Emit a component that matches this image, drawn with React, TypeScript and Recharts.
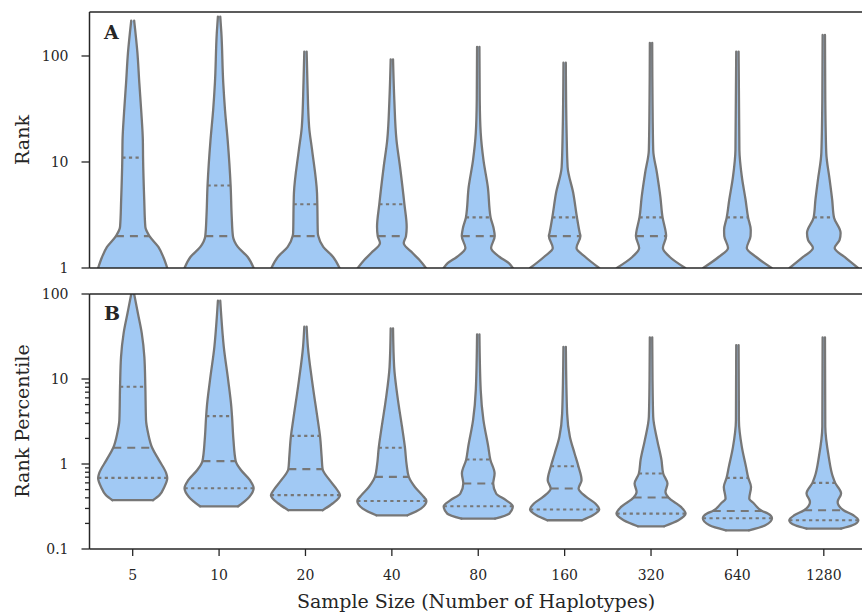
import React from 'react';
import { ComposedChart, Area, Line, XAxis, YAxis, ReferenceLine } from 'recharts';

const sampleSizes = ['5', '10', '20', '40', '80', '160', '320', '640', '1280'];

// Panel A (rank): violin outlines as [rank, relative density], bottom (cut) to top
const rank5 = [[1, 1], [1.27, 0.886], [1.58, 0.743], [2, 0.486], [2.44, 0.366], [4.38, 0.334], [11, 0.3], [16, 0.294], [29, 0.251], [56, 0.191], [107, 0.137], [215, 0.043]];
const rank10 = [[1, 1], [1.27, 0.829], [1.58, 0.543], [2, 0.4], [3.03, 0.366], [6, 0.334], [16, 0.249], [31, 0.171], [56, 0.12], [165, 0.066], [235, 0.034]];
const rank20 = [[1, 0.986], [1.27, 0.8], [1.58, 0.514], [2, 0.371], [2.14, 0.357], [4, 0.343], [5.1, 0.334], [13, 0.191], [21.4, 0.106], [56, 0.057], [110, 0.034]];
const rank40 = [[1, 0.986], [1.19, 0.8], [1.385, 0.6], [1.72, 0.343], [2, 0.409], [2.44, 0.429], [4, 0.363], [8.97, 0.237], [16.1, 0.134], [38.5, 0.071], [93, 0.034]];
const rank80 = [[1, 1], [1.11, 0.886], [1.27, 0.62], [1.54, 0.371], [2, 0.477], [2.38, 0.443], [3, 0.357], [5.81, 0.277], [10.4, 0.151], [18.8, 0.071], [38.5, 0.043], [122, 0.034]];
const rank160 = [[1, 1], [1.27, 0.6], [1.54, 0.343], [2, 0.457], [2.14, 0.437], [3, 0.357], [5.1, 0.249], [8.97, 0.086], [18.8, 0.057], [86.5, 0.034]];
const rank320 = [[1, 0.991], [1.27, 0.543], [1.54, 0.343], [2, 0.437], [2.14, 0.429], [3, 0.334], [4.67, 0.271], [7.87, 0.171], [13, 0.063], [38.5, 0.043], [133, 0.034]];
const rank640 = [[1, 0.991], [1.27, 0.543], [1.54, 0.271], [2, 0.38], [2.28, 0.386], [3, 0.309], [4.38, 0.237], [7.22, 0.129], [13, 0.057], [110, 0.034]];
const rank1280 = [[1, 0.991], [1.27, 0.6], [1.54, 0.314], [1.84, 0.457], [2.14, 0.486], [3, 0.294], [4.38, 0.243], [6.76, 0.171], [12.2, 0.071], [38.5, 0.043], [158, 0.034]];
const rankViolins = [rank5, rank10, rank20, rank40, rank80, rank160, rank320, rank640, rank1280];
const rankQ1 = [1, 1, 1, 1, 1, 1, 1, 1, 1];
const rankMedian = [2, 2, 2, 2, 2, 2, 2, 1, 1];
const rankQ3 = [11, 6, 4, 4, 3, 3, 3, 3, 3];

// Panel B (rank percentile)
const pct5 = [[0.375, 0.586], [0.43, 0.775], [0.537, 0.915], [0.686, 1], [0.773, 0.972], [1.11, 0.761], [1.55, 0.563], [2.31, 0.445], [3.28, 0.386], [8.1, 0.366], [18.1, 0.338], [34.7, 0.262], [59.7, 0.149], [100, 0.042]];
const pct10 = [[0.318, 0.552], [0.41, 0.873], [0.519, 1], [0.645, 0.892], [0.845, 0.637], [1.08, 0.482], [1.91, 0.416], [3.66, 0.374], [4.71, 0.354], [9.7, 0.263], [23.9, 0.136], [59.7, 0.057], [83.4, 0.034]];
const pct20 = [[0.286, 0.496], [0.343, 0.784], [0.43, 1], [0.491, 0.924], [0.645, 0.7], [0.87, 0.496], [1.21, 0.468], [2.14, 0.42], [3.28, 0.356], [9.7, 0.188], [23.9, 0.07], [41.2, 0.034]];
const pct40 = [[0.249, 0.451], [0.299, 0.843], [0.367, 1], [0.43, 0.88], [0.537, 0.666], [0.705, 0.491], [0.968, 0.429], [1.55, 0.38], [2.74, 0.294], [5.64, 0.177], [13.9, 0.066], [39.4, 0.034]];
const pct80 = [[0.228, 0.487], [0.261, 0.898], [0.318, 1], [0.375, 0.802], [0.45, 0.518], [0.589, 0.433], [0.773, 0.473], [1.13, 0.348], [1.58, 0.292], [3.28, 0.15], [7.4, 0.071], [33.5, 0.034]];
const pct160 = [[0.218, 0.504], [0.249, 0.816], [0.291, 1], [0.343, 0.888], [0.41, 0.625], [0.515, 0.403], [0.645, 0.49], [0.94, 0.398], [1.33, 0.288], [2.08, 0.153], [3.94, 0.072], [23.9, 0.035]];
const pct320 = [[0.185, 0.383], [0.218, 0.793], [0.261, 1], [0.313, 0.865], [0.403, 0.504], [0.469, 0.418], [0.589, 0.476], [0.773, 0.352], [1.11, 0.303], [1.91, 0.179], [3.59, 0.063], [9.7, 0.043], [30.9, 0.035]];
const pct640 = [[0.166, 0.334], [0.19, 0.809], [0.23, 1], [0.261, 0.88], [0.28, 0.714], [0.343, 0.477], [0.393, 0.343], [0.537, 0.394], [0.686, 0.314], [0.925, 0.249], [1.58, 0.129], [3.28, 0.043], [25.1, 0.034]];
const pct1280 = [[0.174, 0.5], [0.19, 0.829], [0.218, 1], [0.249, 0.857], [0.286, 0.571], [0.358, 0.4], [0.45, 0.5], [0.6, 0.329], [0.705, 0.263], [1.21, 0.143], [2.74, 0.043], [30.9, 0.034]];
const pctViolins = [pct5, pct10, pct20, pct40, pct80, pct160, pct320, pct640, pct1280];
const pctQ1 = [0.686, 0.519, 0.43, 0.367, 0.318, 0.291, 0.261, 0.23, 0.218];
const pctMedian = [1.55, 1.08, 0.87, 0.705, 0.589, 0.515, 0.403, 0.28, 0.286];
const pctQ3 = [8.1, 3.66, 2.14, 1.55, 1.13, 0.94, 0.773, 0.686, 0.6];

const rankTicks = [1, 10, 100];
const pctTicks = [0.1, 0.2, 0.3, 0.4, 0.5, 0.6, 0.7, 0.8, 0.9, 1, 2, 3, 4, 5, 6, 7, 8, 9, 10, 100];
const pctMajor = [0.1, 1, 10, 100];

const FILL = '#a1c9f4';
const EDGE = '#777777';
const SPINE = '#262626';
const FONT = '"DejaVu Serif", serif';
const HALF = 0.4;
const centers = sampleSizes.map((_, i) => i + 0.5);

function densityAt(prof: number[][], q: number) {
  const hit = prof.find((p) => p[0] === q);
  if (hit) return hit[1];
  for (let k = 1; k < prof.length; k++) {
    if (prof[k][0] >= q) {
      const t = (Math.log(q) - Math.log(prof[k - 1][0])) / (Math.log(prof[k][0]) - Math.log(prof[k - 1][0]));
      return prof[k - 1][1] + t * (prof[k][1] - prof[k - 1][1]);
    }
  }
  return prof[prof.length - 1][1];
}

const lineProps = {
  dot: false,
  activeDot: false,
  isAnimationActive: false,
  legendType: 'none' as const,
};

function violinSeries(prof: number[][], i: number, quarts: [number, string][], floor: number, key: string) {
  const c = centers[i];
  const pts = prof.map(([v, d]) => ({ v, r: [c - d * HALF, c + d * HALF], l: c - d * HALF, h: c + d * HALF }));
  const out = [
    <Area key={key + 'f'} data={pts} dataKey="r" type="monotone" fill={FILL} fillOpacity={1} stroke="none" isAnimationActive={false} legendType="none" />,
    <Line key={key + 'l'} data={pts} dataKey="l" type="monotone" stroke={EDGE} strokeWidth={2.3} strokeLinecap="round" {...lineProps} />,
    <Line key={key + 'r'} data={pts} dataKey="h" type="monotone" stroke={EDGE} strokeWidth={2.3} strokeLinecap="round" {...lineProps} />,
  ];
  if (prof[0][0] > floor) {
    out.push(
      <Line key={key + 'b'} data={[{ v: pts[0].v, x: pts[0].l }, { v: pts[0].v, x: pts[0].h }]} dataKey="x" type="linear" stroke={EDGE} strokeWidth={2.3} strokeLinecap="round" {...lineProps} />
    );
  }
  quarts.forEach(([q, dash], k) => {
    if (q <= floor) return;
    const d = densityAt(prof, q) * HALF;
    out.push(
      <Line key={key + 'q' + k} data={[{ v: q, x: c - d }, { v: q, x: c + d }]} dataKey="x" type="linear" stroke={EDGE} strokeWidth={2.1} strokeDasharray={dash} {...lineProps} />
    );
  });
  return out;
}

const fmt = (v: number) => (v < 1 ? String(v) : String(Math.round(v)));

function LogTick(props: any) {
  const { x, y, payload, majors } = props;
  const v = payload.value;
  const major = majors.includes(v);
  return (
    <g>
      <line x1={x - (major ? 8 : 4.5)} x2={x} y1={y} y2={y} stroke={SPINE} strokeWidth={1.3} />
      {major && (
        <text x={x - 21} y={y} dy="0.35em" textAnchor="end" fontFamily={FONT} fontSize={14} fill={SPINE}>
          {fmt(v)}
        </text>
      )}
    </g>
  );
}

const MEDIAN_DASH = '8 6';
const QUART_DASH = '3.2 3.4';

export default function App() {
  const rankSeries = rankViolins.flatMap((p, i) =>
    violinSeries(p, i, [[rankQ1[i], QUART_DASH], [rankMedian[i], MEDIAN_DASH], [rankQ3[i], QUART_DASH]], 1, 'a' + i)
  );
  const pctSeries = pctViolins.flatMap((p, i) =>
    violinSeries(p, i, [[pctQ1[i], QUART_DASH], [pctMedian[i], MEDIAN_DASH], [pctQ3[i], QUART_DASH]], 0.1, 'b' + i)
  );
  const xTicks = centers;

  return (
    <div style={{ position: 'absolute', left: 0, top: 0, width: 862, height: 616, overflow: 'hidden', background: '#fff' }}>
      <div style={{ position: 'absolute', left: 0, top: 0 }}>
        <ComposedChart layout="vertical" width={880} height={280} margin={{ top: 12, right: 13, bottom: 0, left: 0 }}>
          <XAxis
            type="number"
            dataKey="x"
            domain={[0, 9]}
            ticks={xTicks}
            interval={0}
            allowDataOverflow
            height={12}
            tick={false}
            tickSize={7}
            axisLine={{ stroke: SPINE, strokeWidth: 1.5 }}
            tickLine={{ stroke: SPINE, strokeWidth: 1.3 }}
          />
          <YAxis
            type="number"
            dataKey="v"
            scale="log"
            domain={[1, 260]}
            reversed
            allowDataOverflow
            ticks={rankTicks}
            interval={0}
            width={89.5}
            tickSize={0}
            tickMargin={0}
            tickLine={false}
            axisLine={{ stroke: SPINE, strokeWidth: 1.5 }}
            tick={<LogTick majors={rankTicks} />}
          />
          {rankSeries}
          <ReferenceLine y={260} stroke={SPINE} strokeWidth={1.5} />
        </ComposedChart>
      </div>
      <div style={{ position: 'absolute', left: 0, top: 282 }}>
        <ComposedChart layout="vertical" width={880} height={300} margin={{ top: 12, right: 13, bottom: 0, left: 0 }}>
          <XAxis
            type="number"
            dataKey="x"
            domain={[0, 9]}
            ticks={xTicks}
            interval={0}
            allowDataOverflow
            height={33}
            tickSize={7}
            tickMargin={14}
            tickFormatter={(v: number) => sampleSizes[Math.floor(v)]}
            tick={{ fontFamily: FONT, fontSize: 14, fill: SPINE }}
            axisLine={{ stroke: SPINE, strokeWidth: 1.5 }}
            tickLine={{ stroke: SPINE, strokeWidth: 1.3 }}
          />
          <YAxis
            type="number"
            dataKey="v"
            scale="log"
            domain={[0.1, 100]}
            reversed
            allowDataOverflow
            ticks={pctTicks}
            interval={0}
            width={89.5}
            tickSize={0}
            tickMargin={0}
            tickLine={false}
            axisLine={{ stroke: SPINE, strokeWidth: 1.5 }}
            tick={<LogTick majors={pctMajor} />}
          />
          {pctSeries}
          <ReferenceLine y={100} stroke={SPINE} strokeWidth={1.5} />
        </ComposedChart>
      </div>
      <svg width={862} height={616} style={{ position: 'absolute', left: 0, top: 0, pointerEvents: 'none' }}>
        <g fontFamily={FONT} fill={SPINE}>
          <text x={22} y={140} transform="rotate(-90 22 140)" textAnchor="middle" dominantBaseline="central" fontSize={19}>
            Rank
          </text>
          <text x={22} y={421} transform="rotate(-90 22 421)" textAnchor="middle" dominantBaseline="central" fontSize={19}>
            Rank Percentile
          </text>
          <text x={476} y={608} textAnchor="middle" fontSize={19}>
            Sample Size (Number of Haplotypes)
          </text>
          <text x={104} y={39} fontSize={19} fontWeight="bold">
            A
          </text>
          <text x={104} y={320} fontSize={19} fontWeight="bold">
            B
          </text>
        </g>
      </svg>
    </div>
  );
}
